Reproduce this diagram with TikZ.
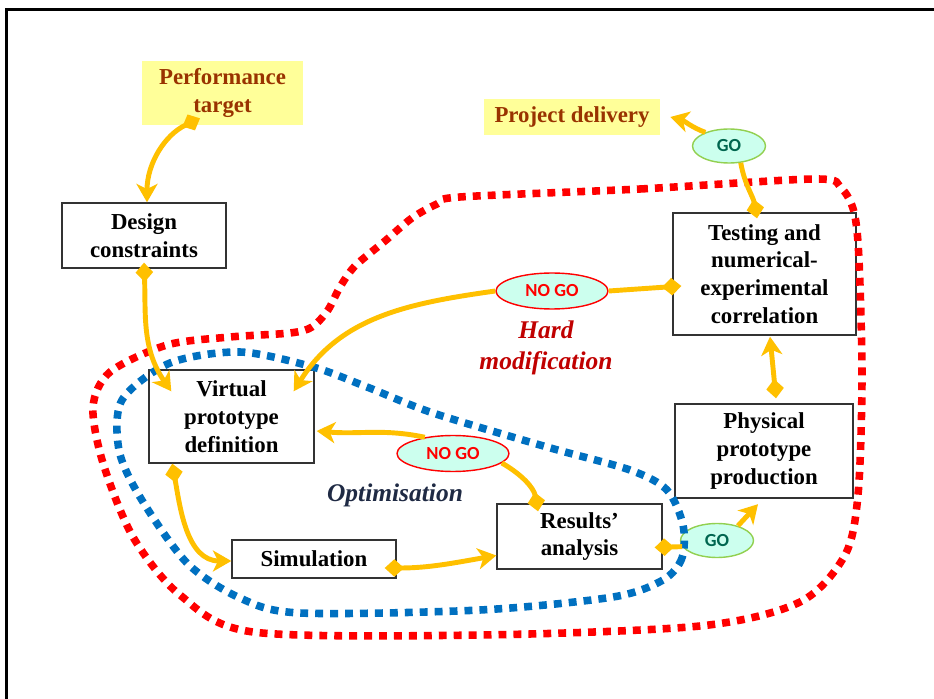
\documentclass[tikz,border=0pt]{standalone}
\usepackage{fontspec}
\setmainfont{Liberation Serif}
\newfontfamily\tagfont{Carlito}
\usepackage{tikz}
\usetikzlibrary{shapes.geometric, positioning, arrows.meta}
\definecolor{gold}{HTML}{FFC000}
\definecolor{loopred}{HTML}{FF0000}
\definecolor{loopblue}{HTML}{0070C0}
\definecolor{paleyellow}{HTML}{FFFF99}
\definecolor{brick}{HTML}{993300}
\definecolor{mint}{HTML}{CCFFEE}
\definecolor{leaf}{HTML}{92D050}
\definecolor{teal}{HTML}{00664F}
\definecolor{wine}{HTML}{C00000}
\definecolor{navy}{HTML}{1F2A44}
\tikzset{
  stage/.style={rectangle, draw=black!80, line width=0.8pt, fill=white, align=center, inner sep=0pt, font=\bfseries\fontsize{13}{15.8}\selectfont},
  goal/.style={rectangle, fill=paleyellow, text=brick, align=center, inner sep=0pt, font=\bfseries\fontsize{13}{15.8}\selectfont},
  gotag/.style={ellipse, draw=leaf, line width=0.8pt, fill=mint, text=teal, inner sep=0pt, minimum width=1.46cm, minimum height=0.68cm, font=\tagfont\bfseries\fontsize{10.5}{12}\selectfont},
  nogotag/.style={gotag, draw=loopred, text=loopred, minimum width=2.24cm, minimum height=0.72cm},
  looplabel/.style={align=center, font=\bfseries\itshape\fontsize{14.5}{17.5}\selectfont},
  flow/.style={draw=gold, line width=2.8pt},
  both/.style={flow, {Diamond[length=11pt,width=10pt]}-{Stealth[length=10.5pt,width=12pt,inset=3pt]}},
  fromtip/.style={flow, {Diamond[length=11pt,width=10pt]}-},
  totip/.style={flow, -{Stealth[length=10.5pt,width=12pt,inset=3pt]}},
  redloop/.style={draw=loopred, line width=4.3pt, dash pattern=on 4.5pt off 4pt},
  blueloop/.style={draw=loopblue, line width=4.3pt, dash pattern=on 4.5pt off 4pt}
}
\begin{document}
\begin{tikzpicture}[x=0.02cm, y=0.02cm]
    \useasboundingbox (0,0) rectangle (934,-699);
    \draw[line width=1.7pt] (6.5,-699) -- (6.5,-9.5) -- (934,-9.5);

    % Objetivos
    \node (target) [goal, minimum width=3.22cm, minimum height=1.28cm] at (222.5,-93) {Performance\\target};
    \node (delivery) [goal, minimum width=3.52cm, minimum height=0.72cm] at (572,-117) {Project delivery};

    % Etapas
    \node (constraints) [stage, minimum width=3.28cm, minimum height=1.3cm] at (144,-235.5) {Design\\constraints};
    \node (testing) [stage, minimum width=3.66cm, minimum height=2.44cm] at (764.5,-274) {Testing and\\numerical-\\experimental\\correlation};
    \node (virtual) [stage, minimum width=3.3cm, minimum height=1.86cm] at (231.5,-416.5) {Virtual\\prototype\\definition};
    \node (physical) [stage, minimum width=3.56cm, minimum height=1.88cm] at (764,-451) {Physical\\prototype\\production};
    \node (simulation) [stage, minimum width=3.28cm, minimum height=0.76cm] at (314,-559) {Simulation};
    \node (results) [stage, minimum width=3.3cm, minimum height=1.3cm] at (579.5,-536.5) {Results'\\analysis};

    % Decisiones
    \node (goup) [gotag] at (729,-146) {GO};
    \node (nogohard) [nogotag] at (552,-291) {NO GO};
    \node (nogoopt) [nogotag] at (453,-453.5) {NO GO};
    \node (godown) [gotag] at (717,-540.5) {GO};

    \node (hard) [looplabel, text=wine] at (546,-348) {Hard\\modification};
    \node (optim) [looplabel, text=navy] at (395,-495) {Optimisation};

    % Lazos
    \draw[redloop] plot[smooth cycle, tension=0.5] coordinates {(460,-197) (640,-189) (815,-179) (841,-188) (854,-212) (859,-260) (862,-380) (858,-495) (845,-555) (800,-602) (700,-626) (480,-635) (253,-632) (180,-595) (133,-537) (103,-463) (93,-407) (110,-372) (167,-345) (230,-337) (290,-333) (312,-327) (328,-310) (340,-287) (355,-266) (385,-241) (412,-218) (437,-204)};
    \draw[blueloop] plot[smooth cycle, tension=0.5] coordinates {(683,-525) (682,-558) (663,-580) (613,-597) (480,-610) (300,-613) (240,-598) (187,-563) (140,-497) (119,-450) (122,-400) (170,-363) (240,-352) (313,-367) (367,-387) (433,-413) (547,-447) (630,-470) (667,-490)};

    % Flujo principal
    \draw[both] ([xshift=-0.45cm,yshift=0.14cm]target.south) to[out=205,in=90] ([xshift=0.06cm]constraints.north);
    \draw[both] ([yshift=0.12cm]constraints.south) to[out=-88,in=125] ([xshift=0.46cm,yshift=-0.44cm]virtual.north west);
    \draw[both] ([xshift=0.48cm,yshift=0.0cm]virtual.south west) to[out=-80,in=180] ([yshift=-0.04cm]simulation.west);
    \draw[both] ([xshift=-0.24cm,yshift=-0.18cm]simulation.east) to[out=0,in=190] ([yshift=-0.38cm]results.west);
    \draw[both] ([xshift=0.24cm,yshift=0.1cm]physical.north) -- ([xshift=0.11cm,yshift=-0.02cm]testing.south);

    % Rama "NO GO"
    \draw[fromtip] ([xshift=-0.83cm,yshift=-0.16cm]results.north) to[out=100,in=-30] (nogoopt.-11);
    \draw[totip] (nogoopt.150) to[out=168,in=-5] ([xshift=0.04cm,yshift=-0.29cm]virtual.east);
    \draw[fromtip] ([xshift=0.18cm,yshift=-0.24cm]testing.west) -- (nogohard.east);
    \draw[totip] (nogohard.west) to[out=188,in=58] ([xshift=-0.42cm,yshift=-0.44cm]virtual.north east);

    % Rama "GO"
    \draw[fromtip] ([xshift=-0.16cm,yshift=-0.22cm]results.east) -- (godown.190);
    \draw[totip] (godown.35) -- ([xshift=-0.12cm,yshift=-0.11cm]physical.south);
    \draw[fromtip] ([xshift=-0.15cm,yshift=-0.12cm]testing.north) to[out=100,in=-80] (goup.-55);
    \draw[totip] (goup.150) to[out=160,in=-15] ([xshift=0.2cm]delivery.east);
\end{tikzpicture}
\end{document}
